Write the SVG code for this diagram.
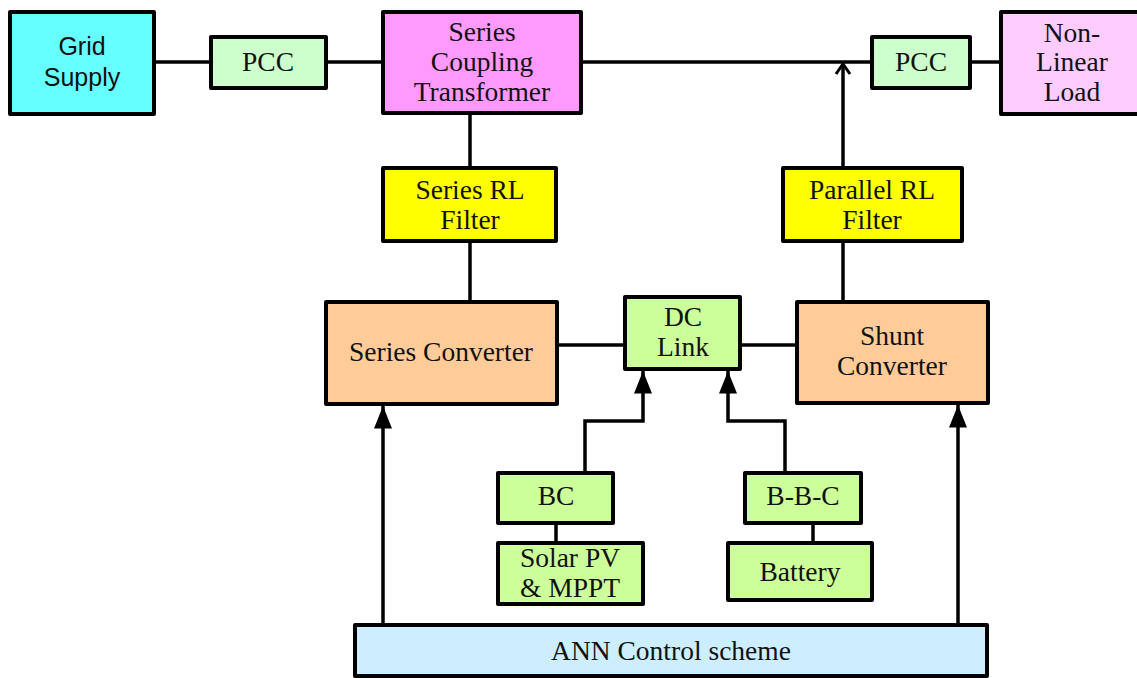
<svg xmlns="http://www.w3.org/2000/svg" width="1137" height="678" viewBox="0 0 1137 678">
<defs>
<style>
.b{stroke:#000;stroke-width:4;stroke-linejoin:round}
.t{font-family:"Liberation Serif","Times New Roman",serif;font-size:27.5px;fill:#111;text-anchor:middle}
.s{font-family:"Liberation Sans",Arial,sans-serif;font-size:25px;fill:#111;text-anchor:middle}
.c{stroke:#000;stroke-width:3.5;fill:none}
</style>
<marker id="ahF" viewBox="0 0 20 16" refX="20" refY="8" markerWidth="24" markerHeight="18" orient="auto" markerUnits="userSpaceOnUse">
<path d="M0,0 L20,8 L0,16 z" fill="#000"/>
</marker>
<marker id="ahO" viewBox="0 0 12 16" refX="11" refY="8" markerWidth="12" markerHeight="18" orient="auto" markerUnits="userSpaceOnUse">
<path d="M1,1 L11,8 L1,15" fill="none" stroke="#000" stroke-width="3"/>
</marker>
</defs>
<rect width="1137" height="678" fill="#fff"/>
<g id="connectors">
<line class="c" x1="154" y1="62" x2="211" y2="62"/>
<line class="c" x1="326" y1="62" x2="383" y2="62"/>
<line class="c" x1="581" y1="62" x2="872" y2="62"/>
<line class="c" x1="970" y1="62" x2="1001" y2="62"/>
<line class="c" x1="843" y1="168" x2="843" y2="64" marker-end="url(#ahO)"/>
<line class="c" x1="470" y1="114" x2="470" y2="168"/>
<line class="c" x1="470" y1="241" x2="470" y2="302"/>
<line class="c" x1="843" y1="241" x2="843" y2="302"/>
<line class="c" x1="557" y1="345" x2="625" y2="345"/>
<line class="c" x1="740" y1="345" x2="797" y2="345"/>
<polyline class="c" points="585,473 585,421 643,421 643,371" marker-end="url(#ahF)"/>
<polyline class="c" points="785,473 785,421 728,421 728,371" marker-end="url(#ahF)"/>
<line class="c" x1="556" y1="523" x2="556" y2="543"/>
<line class="c" x1="813" y1="523" x2="813" y2="543"/>
<line class="c" x1="383" y1="625" x2="383" y2="406" marker-end="url(#ahF)"/>
<line class="c" x1="958" y1="625" x2="958" y2="405" marker-end="url(#ahF)"/>
</g>
<g id="grid-supply"><rect class="b" x="10" y="12" width="144" height="102" fill="#66FFFF"/><text class="s" x="82" y="55">Grid</text><text class="s" x="82" y="86">Supply</text></g>
<g id="pcc-left"><rect class="b" x="211" y="37" width="115" height="51" fill="#CCFFCC"/><text class="t" x="268" y="71">PCC</text></g>
<g id="series-coupling-transformer"><rect class="b" x="383" y="12" width="198" height="101" fill="#FF99FF"/><text class="t" x="482" y="41">Series</text><text class="t" x="482" y="71">Coupling</text><text class="t" x="482" y="101">Transformer</text></g>
<g id="pcc-right"><rect class="b" x="872" y="37" width="98" height="51" fill="#CCFFCC"/><text class="t" x="921" y="71">PCC</text></g>
<g id="non-linear-load"><rect class="b" x="1001" y="12" width="140" height="102" fill="#FFCCFF"/><text class="t" x="1072" y="42">Non-</text><text class="t" x="1072" y="71">Linear</text><text class="t" x="1072" y="101">Load</text></g>
<g id="series-rl-filter"><rect class="b" x="383" y="168" width="173" height="73" fill="#FFFF00"/><text class="t" x="470" y="199">Series RL</text><text class="t" x="470" y="229">Filter</text></g>
<g id="parallel-rl-filter"><rect class="b" x="783" y="168" width="179" height="73" fill="#FFFF00"/><text class="t" x="872" y="199">Parallel RL</text><text class="t" x="872" y="229">Filter</text></g>
<g id="series-converter"><rect class="b" x="326" y="302" width="231" height="102" fill="#FFCC99"/><text class="t" x="441" y="361">Series Converter</text></g>
<g id="dc-link"><rect class="b" x="625" y="297" width="115" height="72" fill="#CCFF99"/><text class="t" x="683" y="326">DC</text><text class="t" x="683" y="356">Link</text></g>
<g id="shunt-converter"><rect class="b" x="797" y="302" width="191" height="101" fill="#FFCC99"/><text class="t" x="892" y="345">Shunt</text><text class="t" x="892" y="375">Converter</text></g>
<g id="bc"><rect class="b" x="498" y="473" width="115" height="50" fill="#CCFF99"/><text class="t" x="556" y="505">BC</text></g>
<g id="bbc"><rect class="b" x="745" y="473" width="116" height="50" fill="#CCFF99"/><text class="t" x="803" y="505">B-B-C</text></g>
<g id="solar-pv"><rect class="b" x="498" y="543" width="145" height="61" fill="#CCFF99"/><text class="t" x="570" y="567">Solar PV</text><text class="t" x="570" y="597">&amp; MPPT</text></g>
<g id="battery"><rect class="b" x="728" y="543" width="144" height="57" fill="#CCFF99"/><text class="t" x="800" y="581">Battery</text></g>
<g id="ann-control"><rect class="b" x="355" y="625" width="632" height="51" fill="#CCEEFF"/><text class="t" x="671" y="660">ANN Control scheme</text></g>
</svg>
